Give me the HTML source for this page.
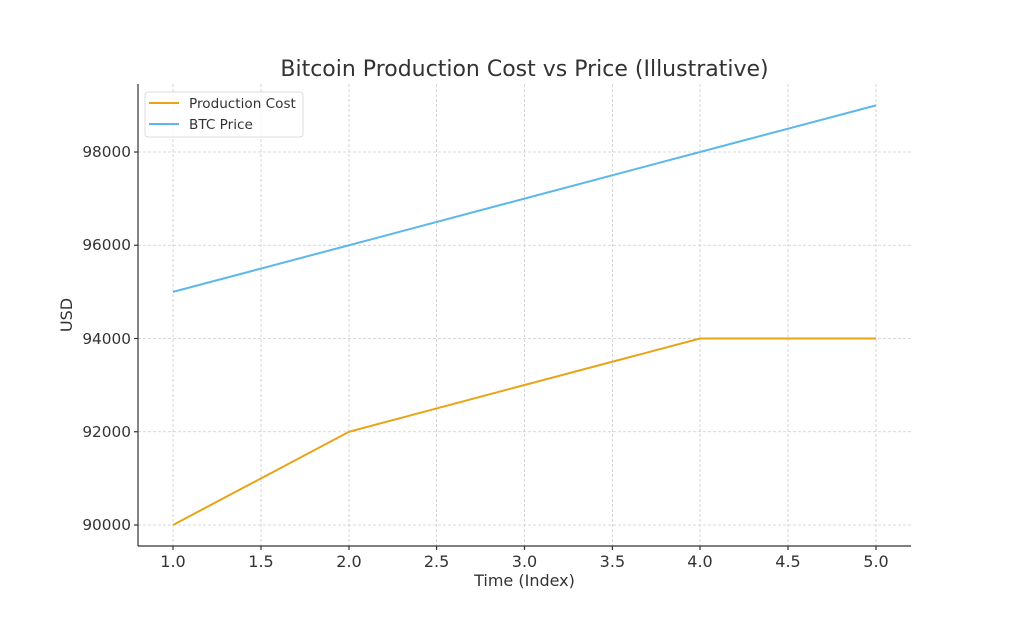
<!DOCTYPE html>
<html><head><style>body{margin:0;background:#fff}</style></head><body>
<svg width="1024" height="625" xmlns="http://www.w3.org/2000/svg" font-family="DejaVu Sans, Liberation Sans, sans-serif" fill="#333">
<rect width="1024" height="625" fill="#fff"/>
<g stroke="#ccc" stroke-width="0.8" stroke-dasharray="3,2">
<line x1="173" y1="84" x2="173" y2="546"/><line x1="261" y1="84" x2="261" y2="546"/>
<line x1="349" y1="84" x2="349" y2="546"/><line x1="436.6" y1="84" x2="436.6" y2="546"/>
<line x1="524.5" y1="84" x2="524.5" y2="546"/><line x1="612.4" y1="84" x2="612.4" y2="546"/>
<line x1="700" y1="84" x2="700" y2="546"/><line x1="788" y1="84" x2="788" y2="546"/>
<line x1="876" y1="84" x2="876" y2="546"/>
<line x1="138" y1="525" x2="911" y2="525"/><line x1="138" y1="431.75" x2="911" y2="431.75"/>
<line x1="138" y1="338.5" x2="911" y2="338.5"/><line x1="138" y1="245.25" x2="911" y2="245.25"/>
<line x1="138" y1="152" x2="911" y2="152"/>
</g>
<polyline points="173,525 349,431.75 524.5,385 700,338.5 876,338.5" fill="none" stroke="#E8A317" stroke-width="2"/>
<polyline points="173,291.9 349,245.25 524.5,198.6 700,152 876,105.4" fill="none" stroke="#5CB8EA" stroke-width="2"/>
<g stroke="#333" stroke-width="1.2">
<line x1="138" y1="84" x2="138" y2="546"/><line x1="138" y1="546" x2="911" y2="546"/>
<line x1="173" y1="546" x2="173" y2="550"/><line x1="261" y1="546" x2="261" y2="550"/><line x1="349" y1="546" x2="349" y2="550"/><line x1="436.6" y1="546" x2="436.6" y2="550"/><line x1="524.5" y1="546" x2="524.5" y2="550"/><line x1="612.4" y1="546" x2="612.4" y2="550"/><line x1="700" y1="546" x2="700" y2="550"/><line x1="788" y1="546" x2="788" y2="550"/><line x1="876" y1="546" x2="876" y2="550"/>
<line x1="134" y1="525" x2="138" y2="525"/><line x1="134" y1="431.75" x2="138" y2="431.75"/><line x1="134" y1="338.5" x2="138" y2="338.5"/><line x1="134" y1="245.25" x2="138" y2="245.25"/><line x1="134" y1="152" x2="138" y2="152"/>
</g>
<g font-size="16" text-anchor="middle">
<text x="173" y="567">1.0</text><text x="261" y="567">1.5</text><text x="349" y="567">2.0</text><text x="436.6" y="567">2.5</text><text x="524.5" y="567">3.0</text><text x="612.4" y="567">3.5</text><text x="700" y="567">4.0</text><text x="788" y="567">4.5</text><text x="876" y="567">5.0</text>
</g>
<g font-size="15.3" text-anchor="end">
<text x="131" y="530">90000</text><text x="131" y="437">92000</text><text x="131" y="344">94000</text><text x="131" y="250">96000</text><text x="131" y="157">98000</text>
</g>
<text x="524.5" y="586" font-size="16" text-anchor="middle">Time (Index)</text>
<text transform="translate(72,315) rotate(-90)" font-size="16" text-anchor="middle">USD</text>
<text x="524.5" y="76" font-size="22" text-anchor="middle">Bitcoin Production Cost vs Price (Illustrative)</text>
<rect x="145" y="92" width="158" height="45" rx="3" fill="#fff" fill-opacity="0.8" stroke="#ddd"/>
<line x1="149" y1="103" x2="179" y2="103" stroke="#E8A317" stroke-width="2"/>
<line x1="149" y1="124" x2="179" y2="124" stroke="#5CB8EA" stroke-width="2"/>
<text x="189" y="108" font-size="13.6">Production Cost</text>
<text x="189" y="129" font-size="13.6">BTC Price</text>
</svg>
</body></html>
